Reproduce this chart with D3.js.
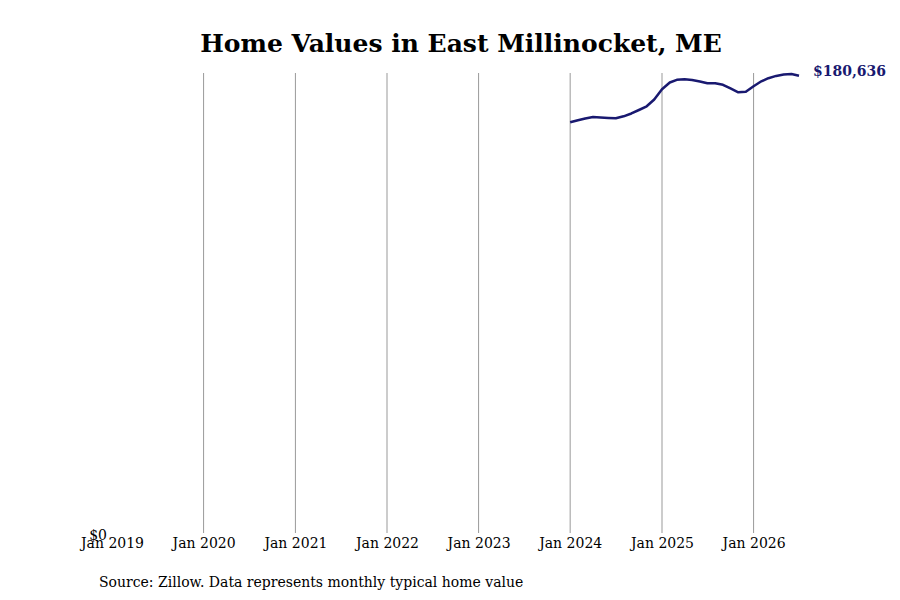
<!DOCTYPE html>
<html>
<head>
<meta charset="utf-8">
<script src="https://cdn.jsdelivr.net/npm/d3@7"></script>
<style>
  body { margin: 0; background: #fff; }
  svg { font-family: "DejaVu Serif", serif; }
</style>
</head>
<body>
<svg id="chart" width="900" height="600"></svg>
<script>
// monthly typical home value, Jan 2024 .. Jul 2026
const months = d3.range(31).map(i => new Date(2024, i, 1));
const values = [
  162315, 163140, 163810, 164400, 164200, 164050, 163890, 164670, 165780, 167150,
  168610, 171280, 175330, 177970, 179030, 179230, 178950, 178360, 177650, 177690,
  177060, 175610, 174110, 174310, 176510, 178440, 179660, 180560, 181110, 181310,
  180636
];
const tickYears = [2019, 2020, 2021, 2022, 2023, 2024, 2025, 2026];
const gridYears = [2020, 2021, 2022, 2023, 2024, 2025, 2026];

const LINE_COLOR = '#191970';
const svg = d3.select('#chart');

const x = d3.scaleTime()
  .domain([new Date(2019, 0, 1), months[months.length - 1]])
  .range([112, 799]);
const y = d3.scaleLinear()
  .domain([0, d3.max(values)])
  .range([535, 74]);

svg.append('text')
  .attr('x', 461).attr('y', 52)
  .attr('text-anchor', 'middle')
  .attr('font-size', 25).attr('font-weight', 'bold')
  .text('Home Values in East Millinocket, ME');

// vertical gridlines
svg.append('g').selectAll('line').data(gridYears).join('line')
  .attr('x1', d => x(new Date(d, 0, 1))).attr('x2', d => x(new Date(d, 0, 1)))
  .attr('y1', 73).attr('y2', 533)
  .attr('stroke', '#999').attr('stroke-width', 1);

// x axis labels
const xAxis = d3.axisBottom(x)
  .tickValues(tickYears.map(yr => new Date(yr, 0, 1)))
  .tickFormat(d => 'Jan ' + d.getFullYear())
  .tickSize(0).tickPadding(0);
const gx = svg.append('g').attr('transform', 'translate(0,538)').call(xAxis);
gx.select('.domain').remove();
gx.selectAll('text').attr('font-family', '"DejaVu Serif", serif').attr('font-size', 14).attr('fill', '#000');

// y axis, only $0
const yAxis = d3.axisLeft(y).tickValues([0]).tickFormat(d => '$' + d3.format(',')(d)).tickSize(0).tickPadding(0);
const gy = svg.append('g').attr('transform', 'translate(107,0)').call(yAxis);
gy.select('.domain').remove();
gy.selectAll('text').attr('font-family', '"DejaVu Serif", serif').attr('font-size', 14).attr('fill', '#000');

const line = d3.line()
  .x((d, i) => x(months[i]))
  .y(d => y(d));

svg.append('path')
  .datum(values)
  .attr('d', line)
  .attr('fill', 'none')
  .attr('stroke', LINE_COLOR)
  .attr('stroke-width', 2.5)
  .attr('stroke-linejoin', 'round');

const last = values[values.length - 1];
svg.append('text')
  .attr('x', x(months[months.length - 1]) + 14)
  .attr('y', y(last))
  .attr('font-size', 14).attr('font-weight', 'bold')
  .attr('fill', LINE_COLOR)
  .text('$' + d3.format(',')(last));

svg.append('text')
  .attr('x', 99).attr('y', 587)
  .attr('font-size', 14)
  .text('Source: Zillow. Data represents monthly typical home value');
</script>
</body>
</html>
